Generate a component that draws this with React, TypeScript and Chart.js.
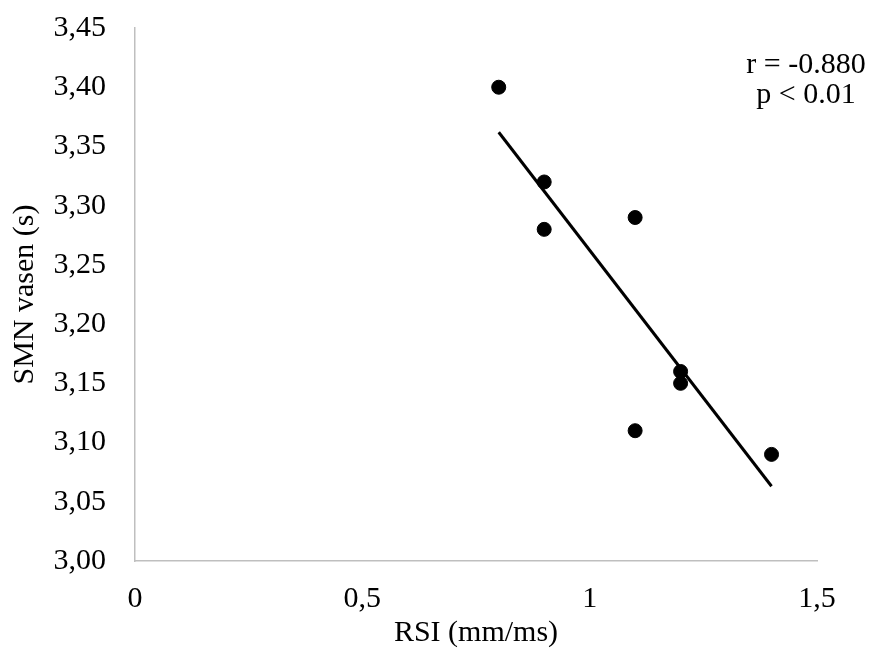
import React, { useEffect, useRef } from "react";
import { Chart, registerables } from "chart.js";

Chart.register(...registerables);

// Data
const rsiValues = [0.8, 0.9, 0.9, 1.1, 1.1, 1.2, 1.2, 1.4];
const smnValues = [3.4, 3.32, 3.28, 3.29, 3.11, 3.16, 3.15, 3.09];
const xTickValues = [0, 0.5, 1, 1.5];
const yTickMin = 3.0;
const yTickMax = 3.45;
const yTickStep = 0.05;
const xTitle = "RSI (mm/ms)";
const yTitle = "SMN vasen (s)";
const statLines = ["r = -0.880", "p < 0.01"];

const FONT = "'Liberation Serif', 'Times New Roman', serif";

function linearFit(xs: number[], ys: number[]) {
  const n = xs.length;
  const mx = xs.reduce((a, b) => a + b, 0) / n;
  const my = ys.reduce((a, b) => a + b, 0) / n;
  let sxy = 0;
  let sxx = 0;
  for (let i = 0; i < n; i++) {
    sxy += (xs[i] - mx) * (ys[i] - my);
    sxx += (xs[i] - mx) * (xs[i] - mx);
  }
  const slope = sxy / sxx;
  return { slope, intercept: my - slope * mx };
}

const fmtComma = (v: number, digits: number) => {
  const s = digits > 0 ? v.toFixed(digits) : String(Math.round(v * 100) / 100);
  return s.replace(".", ",");
};

export default function App() {
  const canvasRef = useRef<HTMLCanvasElement | null>(null);

  useEffect(() => {
    const canvas = canvasRef.current;
    if (!canvas) return;

    const fit = linearFit(rsiValues, smnValues);
    const xMinData = Math.min(...rsiValues);
    const xMaxData = Math.max(...rsiValues);
    const trend = [
      { x: xMinData, y: fit.intercept + fit.slope * xMinData },
      { x: xMaxData, y: fit.intercept + fit.slope * xMaxData },
    ];

    const statsPlugin = {
      id: "stats",
      afterDraw(chart: any) {
        const { ctx } = chart;
        ctx.save();
        ctx.fillStyle = "#000";
        ctx.font = `30px ${FONT}`;
        ctx.textAlign = "center";
        ctx.textBaseline = "middle";
        const cx = chart.chartArea.right - 11;
        const cy = chart.chartArea.top + 37;
        statLines.forEach((line, i) => {
          ctx.fillText(line, cx, cy + i * 30);
        });
        ctx.restore();
      },
    };

    const chart = new Chart(canvas, {
      type: "scatter",
      data: {
        datasets: [
          {
            type: "scatter",
            data: rsiValues.map((x, i) => ({ x, y: smnValues[i] })),
            backgroundColor: "#000",
            borderColor: "#000",
            pointRadius: 7,
            pointHoverRadius: 7,
            order: 1,
          },
          {
            type: "line",
            data: trend,
            borderColor: "#000",
            borderWidth: 3,
            pointRadius: 0,
            fill: false,
            order: 2,
          } as any,
        ],
      },
      options: {
        animation: false,
        responsive: true,
        maintainAspectRatio: false,
        layout: { padding: { top: 28, right: 59, left: 0, bottom: 0 } },
        plugins: {
          legend: { display: false },
          tooltip: { enabled: false },
        },
        scales: {
          x: {
            type: "linear",
            min: xTickValues[0],
            max: xTickValues[xTickValues.length - 1],
            afterBuildTicks: (scale: any) => {
              scale.ticks = xTickValues.map((v) => ({ value: v }));
            },
            afterFit: (scale: any) => {
              scale.height = 98;
              scale.paddingLeft = 0;
              scale.paddingRight = 0;
            },
            ticks: {
              color: "#000",
              font: { family: FONT, size: 30 },
              padding: 20,
              maxRotation: 0,
              callback: (v: any) => fmtComma(Number(v), 0),
            },
            grid: { drawOnChartArea: false, drawTicks: false },
            border: { color: "#bfbfbf", width: 1.5 },
            title: {
              display: true,
              text: xTitle,
              color: "#000",
              font: { family: FONT, size: 30 },
              padding: { top: 0, bottom: 8 },
            },
          },
          y: {
            type: "linear",
            min: yTickMin,
            max: yTickMax,
            ticks: {
              stepSize: yTickStep,
              color: "#000",
              font: { family: FONT, size: 30 },
              padding: 29,
              callback: (v: any) => fmtComma(Number(v), 2),
            },
            afterFit: (scale: any) => {
              scale.width = 135;
              scale.paddingTop = 0;
              scale.paddingBottom = 0;
            },
            grid: { drawOnChartArea: false, drawTicks: false },
            border: { color: "#bfbfbf", width: 1.5 },
            title: {
              display: true,
              text: yTitle,
              color: "#000",
              font: { family: FONT, size: 30 },
              padding: { top: 7, bottom: 0 },
            },
          },
        },
      },
      plugins: [statsPlugin],
    } as any);

    return () => chart.destroy();
  }, []);

  return (
    <div
      style={{
        position: "fixed",
        left: 0,
        top: 0,
        width: 876,
        height: 659,
        background: "#fff",
      }}
    >
      <canvas ref={canvasRef} />
    </div>
  );
}
